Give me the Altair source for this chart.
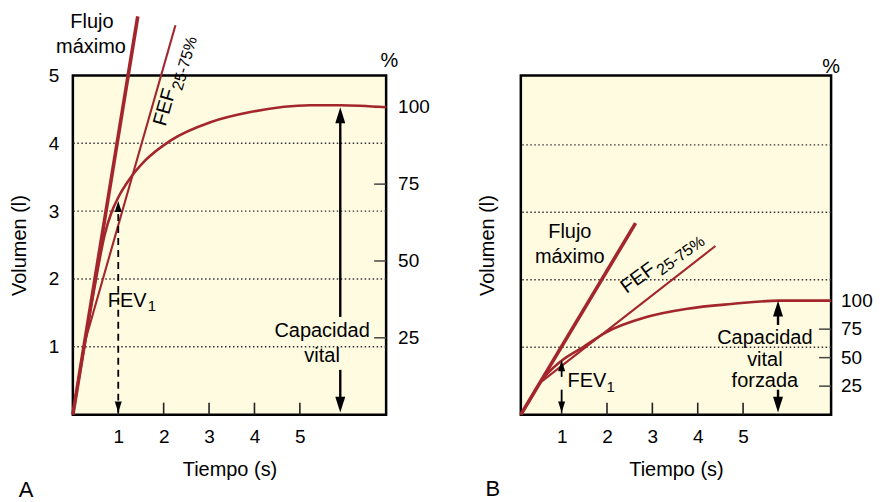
import altair as alt
import pandas as pd

RED = "#A2262C"
CREAM = "#FEFBE0"
FONT = "Liberation Sans"

# ---------------- data ----------------
# Panel A (normal spirogram)
a_time = [0, 0.25, 0.5, 0.7, 0.85, 1.0, 1.27, 1.6, 2.15, 3.03, 3.91, 5.23, 5.9, 6.9]
a_volume = [0, 1.0, 1.96, 2.65, 2.98, 3.2, 3.49, 3.75, 4.04, 4.31, 4.46, 4.56, 4.56, 4.53]
a_peak_t = [0, 1.43]
a_peak_v = [0, 5.87]
a_fef_t = [0.26, 2.26]
a_fef_v = [1.06, 5.74]
a_fvc = 4.53
a_fev1 = 3.15
a_fvc_time = 5.89

# Panel B (time axis of this panel starts a little after 0)
b_time = [0.1, 0.3, 0.52, 1.0, 1.45, 1.95, 2.89, 3.77, 4.74, 5.79, 6.94]
b_volume = [0, 0.22, 0.47, 0.8, 0.99, 1.21, 1.45, 1.57, 1.64, 1.69, 1.69]
b_peak_t = [0.1, 2.63]
b_peak_v = [0, 2.84]
b_fef_t = [0.52, 4.39]
b_fef_v = [0.47, 2.5]
b_fvc = 1.69
b_fev1 = 0.81
b_fvc_time = 5.77

time_ticks = [1, 2, 3, 4, 5]
volume_labels = [1, 2, 3, 4, 5]
grid_volumes = [1, 2, 3, 4]
pct_ticks = [25, 50, 75, 100]

UP = "M0,0L-1,3.2L1,3.2Z"
DOWN = "M0,0L-1,-3.2L1,-3.2Z"


def panel(c):
    W, H = c["W"], c["H"]
    xs = alt.Scale(domain=c["xdom"], nice=False, zero=False)
    ys = alt.Scale(domain=[0, c["ymax"]], nice=False, zero=False)
    xaxis = alt.Axis(values=time_ticks, title="Tiempo (s)", labelFontSize=19, titleFontSize=20,
                     labelPadding=13, titlePadding=13, ticks=False, tickSize=0, domain=False,
                     grid=False, labelFlush=False, labelFont=FONT, titleFont=FONT,
                     labelColor="black", titleColor="black", titleFontWeight="normal")
    if c["ylabels"]:
        yaxis = alt.Axis(values=volume_labels, title="Volumen (l)", labelFontSize=19, titleFontSize=20,
                         labelPadding=14, titlePadding=19, ticks=False, tickSize=0, domain=False,
                         grid=False, labelFlush=False, labelFont=FONT, titleFont=FONT,
                         labelColor="black", titleColor="black", titleFontWeight="normal")
    else:
        yaxis = alt.Axis(values=volume_labels, labels=False, title="Volumen (l)", titleFontSize=20,
                         titlePadding=23, ticks=False, tickSize=0, domain=False, grid=False,
                         titleFont=FONT, titleColor="black", titleFontWeight="normal")

    def X(f):
        return alt.X(f, type="quantitative", scale=xs, axis=xaxis)

    def Y(f):
        return alt.Y(f, type="quantitative", scale=ys, axis=yaxis)

    def text(t, v, s, **kw):
        base = dict(font=FONT, color="black", fontSize=20, align="left", baseline="alphabetic")
        base.update(kw)
        return alt.Chart(pd.DataFrame({"t": [t], "v": [v], "s": [s]})).mark_text(**base).encode(
            x=X("t"), y=Y("v"), text="s:N")

    layers = []
    curve = alt.Chart(pd.DataFrame({"t": c["ct"], "v": c["cv"]})).mark_line(
        color=RED, strokeWidth=2.6, interpolate="monotone").encode(x=X("t"), y=Y("v"))
    # label backgrounds (interrupt the dotted grid)
    for (t1, t2, v1, v2) in c["patches"]:
        layers.append(alt.Chart(pd.DataFrame({"t1": [t1], "t2": [t2], "v1": [v1], "v2": [v2]}))
                      .mark_rect(color=CREAM).encode(x=X("t1"), x2=alt.X2("t2"), y=Y("v1"), y2=alt.Y2("v2")))
    # dotted grid
    layers.append(alt.Chart(pd.DataFrame({"v": grid_volumes})).mark_rule(
        color="#333", strokeWidth=1.4, strokeDash=[1.5, 2.5]).encode(y=Y("v")))
    # x ticks (inward)
    layers.append(alt.Chart(pd.DataFrame({"t": time_ticks})).mark_rule(
        color="#222", strokeWidth=1.6).encode(x=X("t"), y=alt.value(H - 12), y2=alt.value(H)))
    # right % ticks (inward) and labels
    pdf = pd.DataFrame({"pct": pct_ticks, "lab": [str(p) for p in pct_ticks]})
    layers.append(alt.Chart(pdf).transform_calculate(vol=f"datum.pct*{c['fvc']}/100").mark_rule(
        color="#444", strokeWidth=1.5).encode(y=Y("vol"), x=alt.value(W - 12), x2=alt.value(W)))
    layers.append(alt.Chart(pdf).transform_calculate(vol=f"datum.pct*{c['fvc']}/100").mark_text(
        font=FONT, fontSize=19, align="left", baseline="middle", color="black").encode(
        y=Y("vol"), x=alt.value(W + c["pct_dx"]), text="lab:N"))

    layers.append(curve)
    # peak flow and FEF lines
    layers.append(alt.Chart(pd.DataFrame({"t": c["pt"], "v": c["pv"]})).mark_line(
        color=RED, strokeWidth=3.6).encode(x=X("t"), y=Y("v")))
    layers.append(alt.Chart(pd.DataFrame({"t": c["ft"], "v": c["fv"]})).mark_line(
        color=RED, strokeWidth=2.1).encode(x=X("t"), y=Y("v")))

    # arrows
    for (t, v1, v2, dash, w) in c["shafts"]:
        kw = dict(color="black", strokeWidth=w)
        if dash:
            kw["strokeDash"] = [7, 5]
        layers.append(alt.Chart(pd.DataFrame({"t": [t], "v1": [v1], "v2": [v2]})).mark_rule(**kw).encode(
            x=X("t"), y=Y("v1"), y2=alt.Y2("v2")))
    for (t, v, shape, size) in c["heads"]:
        layers.append(alt.Chart(pd.DataFrame({"t": [t], "v": [v]})).mark_point(
            shape=shape, size=size, filled=True, color="black", opacity=1, strokeWidth=0).encode(
            x=X("t"), y=Y("v")))

    # texts
    for (t, v, s, kw) in c["texts"]:
        layers.append(text(t, v, s, **kw))

    return alt.layer(*layers).properties(width=W, height=H)


A = panel(dict(
    W=314, H=340, xdom=[0, 6.9], ymax=5.0, fvc=a_fvc, ylabels=True, pct_dx=12,
    ct=a_time, cv=a_volume, pt=a_peak_t, pv=a_peak_v, ft=a_fef_t, fv=a_fef_v,
    patches=[(4.9, 6.7, 0.96, 1.35), (1.76, 2.11, 3.9, 4.1)],
    shafts=[(1.0, 0.03, a_fev1 - 0.15, True, 1.8),
            (a_fvc_time, 1.44, a_fvc - 0.2, False, 2.4),
            (a_fvc_time, 0.03 + 0.2, 0.66, False, 2.4)],
    heads=[(1.0, a_fev1, UP, 49), (1.0, 0.03, DOWN, 49),
           (a_fvc_time, a_fvc, UP, 100), (a_fvc_time, 0.03, DOWN, 100)],
    texts=[(0.42, 5.70, "Flujo", dict(align="center")),
           (0.40, 5.33, "máximo", dict(align="center")),
           (2.04, 4.24, "FEF", dict(angle=286)),
           (2.04, 4.24, "25-75%", dict(angle=286, dx=39, dy=6, fontSize=16)),
           (0.77, 1.59, "FEV", {}),
           (1.65, 1.53, "1", dict(fontSize=15)),
           (5.49, 1.15, "Capacidad", dict(align="center")),
           (5.49, 0.78, "vital", dict(align="center")),
           (6.97, 5.12, "%", dict(align="center")),
           (-1.03, -1.21, "A", dict(align="center", fontSize=22))],
))

B = panel(dict(
    W=311, H=340, xdom=[0.1, 6.94], ymax=5.03, fvc=b_fvc, ylabels=False, pct_dx=10,
    ct=b_time, cv=b_volume, pt=b_peak_t, pv=b_peak_v, ft=b_fef_t, fv=b_fef_v,
    patches=[(4.36, 6.52, 0.9, 1.1)],
    shafts=[(1.0, 0.03 + 0.15, 0.37, False, 1.8),
            (1.0, 0.56, b_fev1 - 0.15, False, 1.8),
            (b_fvc_time, 1.33, b_fvc - 0.2, False, 2.4),
            (b_fvc_time, 0.03 + 0.2, 0.37, False, 2.4)],
    heads=[(1.0, b_fev1, UP, 49), (1.0, 0.03, DOWN, 49),
           (b_fvc_time, b_fvc, UP, 100), (b_fvc_time, 0.03, DOWN, 100)],
    texts=[(1.18, 2.62, "Flujo", dict(align="center")),
           (1.18, 2.25, "máximo", dict(align="center")),
           (2.43, 1.79, "FEF", dict(angle=324)),
           (2.43, 1.79, "25-75%", dict(angle=324, dx=39, dy=6, fontSize=16)),
           (1.13, 0.41, "FEV", {}),
           (1.99, 0.34, "1", dict(fontSize=15)),
           (5.48, 1.04, "Capacidad", dict(align="center")),
           (5.48, 0.72, "vital", dict(align="center")),
           (5.48, 0.41, "forzada", dict(align="center")),
           (6.94, 5.07, "%", dict(align="center")),
           (-0.52, -1.21, "B", dict(align="center", fontSize=22))],
))

chart = alt.hconcat(A, B, spacing=135, bounds="flush").configure_view(
    fill=CREAM, stroke="black", strokeWidth=2.5
).properties(padding={"left": 0, "top": -1, "right": 0, "bottom": 0})

chart.save("out.html", embed_options={"renderer": "svg", "actions": False})
